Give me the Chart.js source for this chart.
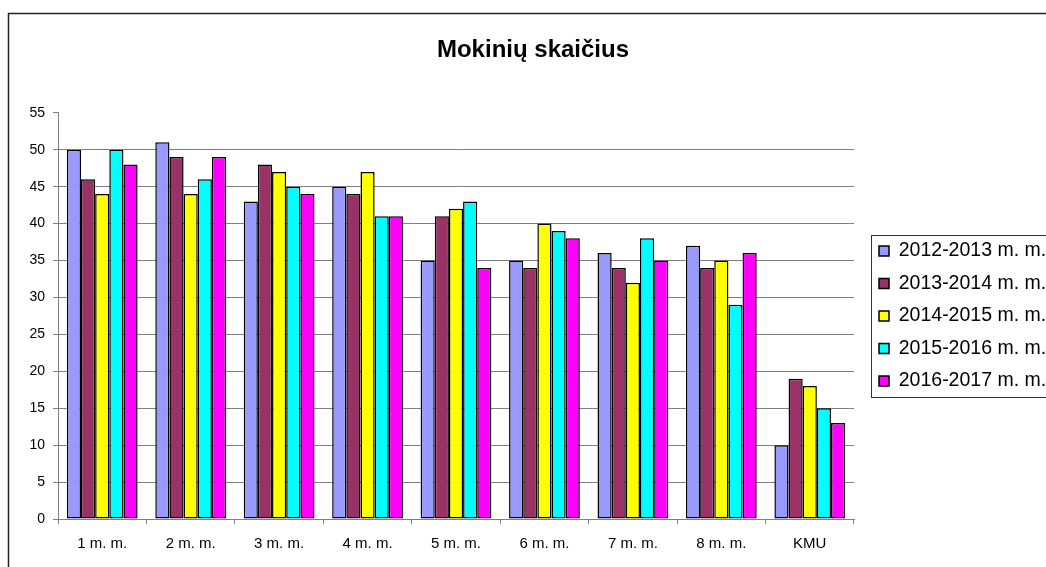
<!DOCTYPE html>
<html>
<head>
<meta charset="utf-8">
<script src="https://cdn.jsdelivr.net/npm/chart.js@4.4.0/dist/chart.umd.min.js"></script>
<style>
  html, body { margin: 0; padding: 0; background: #fff; }
</style>
</head>
<body>
<canvas id="chart" width="1046" height="567"></canvas>
<script>
// duomenys
const klases = ["1 m. m.", "2 m. m.", "3 m. m.", "4 m. m.", "5 m. m.", "6 m. m.", "7 m. m.", "8 m. m.", "KMU"];
const metai = ["2012-2013 m. m.", "2013-2014 m. m.", "2014-2015 m. m.", "2015-2016 m. m.", "2016-2017 m. m."];
const m2012 = [50, 51, 43, 45, 35, 35, 36, 37, 10];
const m2013 = [46, 49, 48, 44, 41, 34, 34, 34, 19];
const m2014 = [44, 44, 47, 47, 42, 40, 32, 35, 18];
const m2015 = [50, 46, 45, 41, 43, 39, 38, 29, 15];
const m2016 = [48, 49, 44, 41, 34, 38, 35, 36, 13];
const yMin = 0;
const yMax = 55;
const yStep = 5;

const serijos = [m2012, m2013, m2014, m2015, m2016];
const spalvos = ["#9999FF", "#993366", "#FFFF00", "#00FFFF", "#FF00FF"];
const pilka = "#808080";

Chart.defaults.font.family = "'Liberation Sans', Arial, sans-serif";
Chart.defaults.color = "#000";

// remelis aplink diagrama ir legenda
const remelis = {
  id: "remelis",
  afterLayout(chart) {
    const lg = chart.legend;
    const a = chart.chartArea;
    lg.left += 12;
    lg.right += 12;
    lg.top = a.top;
    lg.bottom = a.bottom;
    lg.height = a.bottom - a.top;
  },
  afterDraw(chart) {
    const ctx = chart.ctx;
    const lg = chart.legend;
    const cy = (lg.top + lg.bottom) / 2;
    ctx.save();
    ctx.strokeStyle = "#222";
    ctx.lineWidth = 1.5;
    ctx.strokeRect(8.5, 13.5, 1100, 620);
    ctx.strokeStyle = "#333";
    ctx.lineWidth = 1;
    ctx.strokeRect(Math.round(lg.left + 5) + 0.5, Math.round(cy - 81) + 0.5, 300, 162);
    ctx.restore();
  },
};

const ctx = document.getElementById("chart").getContext("2d");
const chart = new Chart(ctx, {
  type: "bar",
  data: {
    labels: klases,
    datasets: metai.map((m, i) => ({
      label: m,
      data: serijos[i],
      backgroundColor: spalvos[i],
      borderColor: "#000",
      borderWidth: 1.5,
      borderSkipped: false,
      categoryPercentage: 0.8,
      barPercentage: 1.0,
    })),
  },
  options: {
    responsive: false,
    animation: false,
    layout: { padding: { left: 26, right: 6, top: 0, bottom: 0 } },
    plugins: {
      title: {
        display: true,
        text: "Mokinių skaičius",
        font: { size: 24, weight: "bold" },
        color: "#000",
        padding: { top: 36, bottom: 48 },
      },
      legend: {
        position: "right",
        maxWidth: 186,
        labels: {
          boxWidth: 10,
          boxHeight: 10,
          padding: 13,
          font: { size: 19.5 },
          color: "#000",
        },
      },
      tooltip: { enabled: false },
    },
    scales: {
      x: {
        grid: {
          drawOnChartArea: false,
          drawTicks: true,
          tickLength: 5,
          color: pilka,
          offset: true,
        },
        border: { color: pilka },
        ticks: { font: { size: 15 }, padding: 11, maxRotation: 0 },
        afterFit(scale) {
          scale.height = 48;
        },
      },
      y: {
        min: yMin,
        max: yMax,
        grid: {
          color: (c) => (c.tick && c.tick.value === yMax ? "rgba(0,0,0,0)" : pilka),
          tickColor: pilka,
          tickLength: 5,
        },
        border: { color: pilka },
        ticks: { stepSize: yStep, font: { size: 14 }, padding: 8 },
        afterFit(scale) {
          scale.width = 32;
        },
      },
    },
  },
  plugins: [remelis],
});
</script>
</body>
</html>
